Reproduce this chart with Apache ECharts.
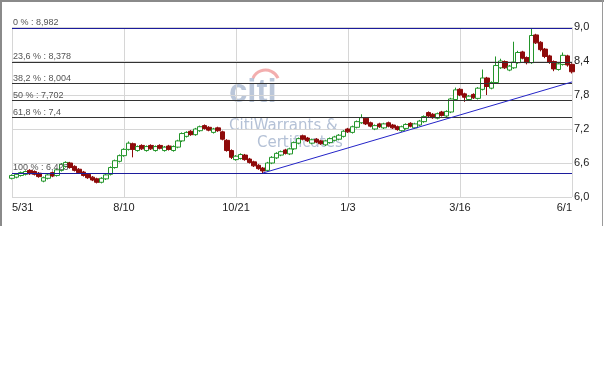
<!DOCTYPE html>
<html>
<head>
<meta charset="utf-8">
<script src="https://cdn.jsdelivr.net/npm/echarts@6/dist/echarts.min.js"></script>
<style>html,body{margin:0;padding:0;background:#fff;}#c{width:604px;height:384px;}</style>
</head>
<body>
<div id="c"></div>
<script>
// x tick labels (every 25 candles)
const dateLabels = ['5/31', '8/10', '10/21', '1/3', '3/16', '6/1'];
// candle values
const opens = [
6.33,6.35,6.38,6.40,6.47,6.45,6.42,6.28,6.33,6.43,
6.38,6.47,6.54,6.60,6.54,6.49,6.44,6.40,6.35,6.32,
6.26,6.32,6.40,6.52,6.63,6.73,6.84,6.94,6.82,6.91,
6.82,6.91,6.82,6.91,6.82,6.90,6.82,6.88,6.99,7.07,
7.16,7.10,7.17,7.26,7.23,7.14,7.22,7.15,7.00,6.82,
6.66,6.68,6.74,6.67,6.62,6.56,6.51,6.47,6.60,6.69,
6.74,6.83,6.76,6.85,6.95,7.08,7.04,6.95,7.02,6.99,
6.92,6.96,7.00,7.02,7.07,7.20,7.14,7.23,7.31,7.39,
7.31,7.20,7.29,7.22,7.31,7.27,7.24,7.17,7.21,7.30,
7.22,7.27,7.33,7.49,7.46,7.39,7.50,7.43,7.50,7.72,
7.90,7.82,7.72,7.81,7.74,7.90,8.10,7.92,8.02,8.28,
8.39,8.24,8.28,8.37,8.56,8.46,8.37,8.86,8.73,8.61,
8.49,8.39,8.25,8.34,8.49,8.34];
const closes = [
6.38,6.40,6.43,6.45,6.41,6.40,6.36,6.34,6.39,6.37,
6.48,6.58,6.61,6.52,6.47,6.43,6.38,6.34,6.30,6.26,
6.33,6.39,6.52,6.64,6.73,6.84,6.95,6.84,6.89,6.85,
6.89,6.85,6.89,6.86,6.88,6.84,6.89,6.99,7.12,7.14,
7.10,7.20,7.24,7.21,7.18,7.20,7.17,7.02,6.82,6.70,
6.72,6.75,6.66,6.61,6.55,6.50,6.46,6.60,6.70,6.77,
6.80,6.77,6.85,6.96,7.03,7.02,6.99,7.01,6.97,6.94,
6.99,7.03,7.06,7.09,7.16,7.15,7.24,7.33,7.40,7.29,
7.25,7.26,7.24,7.29,7.25,7.22,7.19,7.24,7.28,7.25,
7.29,7.34,7.42,7.43,7.40,7.47,7.44,7.51,7.73,7.89,
7.80,7.76,7.78,7.75,7.92,8.10,7.95,8.02,8.32,8.40,
8.28,8.31,8.38,8.55,8.45,8.37,8.85,8.72,8.60,8.48,
8.38,8.26,8.35,8.50,8.33,8.21];
const lows = [
6.31,6.33,6.36,6.38,6.39,6.38,6.34,6.26,6.31,6.35,
6.36,6.45,6.52,6.50,6.45,6.41,6.36,6.32,6.28,6.24,
6.24,6.30,6.38,6.50,6.61,6.71,6.82,6.70,6.80,6.83,
6.80,6.83,6.80,6.84,6.80,6.82,6.80,6.86,6.97,7.05,
7.08,7.08,7.15,7.19,7.16,7.12,7.15,7.00,6.80,6.67,
6.64,6.66,6.64,6.59,6.53,6.48,6.423,6.45,6.58,6.67,
6.72,6.75,6.74,6.83,6.93,7.00,6.97,6.93,6.95,6.92,
6.90,6.94,6.98,7.00,7.05,7.13,7.12,7.21,7.29,7.27,
7.23,7.18,7.22,7.20,7.23,7.20,7.17,7.15,7.19,7.23,
7.20,7.25,7.31,7.41,7.38,7.37,7.42,7.41,7.48,7.70,
7.78,7.68,7.70,7.73,7.72,7.88,7.80,7.90,8.00,8.26,
8.26,8.22,8.26,8.35,8.43,8.34,8.35,8.70,8.57,8.45,
8.35,8.22,8.23,8.32,8.30,8.18];
const highs = [
6.40,6.42,6.45,6.47,6.49,6.47,6.44,6.36,6.41,6.45,
6.50,6.60,6.63,6.62,6.56,6.51,6.46,6.42,6.37,6.34,
6.35,6.41,6.54,6.66,6.75,6.86,6.98,6.96,6.91,6.93,
6.91,6.93,6.91,6.93,6.90,6.92,6.91,7.01,7.14,7.16,
7.18,7.22,7.26,7.28,7.25,7.22,7.24,7.17,7.02,6.84,
6.74,6.77,6.76,6.69,6.64,6.58,6.53,6.62,6.72,6.79,
6.82,6.85,6.87,6.98,7.05,7.10,7.06,7.03,7.04,7.01,
7.01,7.05,7.08,7.11,7.18,7.22,7.26,7.35,7.46,7.41,
7.33,7.28,7.31,7.31,7.33,7.29,7.26,7.26,7.30,7.32,
7.31,7.36,7.44,7.51,7.48,7.49,7.52,7.53,7.75,7.93,
7.92,7.84,7.80,7.83,7.94,8.25,8.12,8.04,8.48,8.44,
8.41,8.33,8.74,8.58,8.58,8.48,8.982,8.88,8.75,8.63,
8.51,8.41,8.37,8.55,8.51,8.36];
// Fibonacci retracement levels
const fibLevels = [0, 23.6, 38.2, 50, 61.8, 100];
const fibValues = [8.982, 8.378, 8.004, 7.702, 7.4, 6.423];
// trend line end points [candle index, price]
const trendStart = [56, 6.423];
const trendEnd = [125, 8.03];

const comma = v => String(v).replace('.', ',');
const candleData = opens.map((o, i) => [i, o, closes[i], lows[i], highs[i]]);

const fibLines = fibValues.map((v, i) => {
  const edge = (i === 0 || i === fibValues.length - 1);
  return {
    yAxis: v,
    lineStyle: { color: edge ? '#1c1c9c' : '#333333', width: 1, type: 'solid' },
    label: { formatter: comma(fibLevels[i]) + ' % : ' + comma(v) }
  };
});

const chart = echarts.init(document.getElementById('c'), null, { renderer: 'canvas' });
chart.setOption({
  animation: false,
  backgroundColor: '#ffffff',
  grid: { left: 12, right: 32, top: 27, bottom: 187 },
  xAxis: {
    type: 'value', min: 0, max: 125, interval: 25,
    axisLine: { show: false }, axisTick: { show: false },
    splitLine: { show: true, lineStyle: { color: '#d6d6d6', width: 1 } },
    axisLabel: {
      margin: 5, color: '#222', fontSize: 11, fontFamily: '"Liberation Sans", Arial, sans-serif',
      alignMinLabel: 'left', alignMaxLabel: 'right',
      formatter: v => dateLabels[Math.round(v / 25)]
    }
  },
  yAxis: {
    type: 'value', position: 'right', min: 6, max: 9, interval: 0.6,
    axisLine: { show: false }, axisTick: { show: false },
    splitLine: { show: true, lineStyle: { color: '#d6d6d6', width: 1 } },
    axisLabel: {
      margin: 2, color: '#222', fontSize: 11, fontFamily: '"Liberation Sans", Arial, sans-serif',
      formatter: v => v.toFixed(1).replace('.', ',')
    }
  },
  graphic: [
    { type: 'text', z: 0, silent: true, style: { text: 'citi', x: 229, y: 76, font: 'bold 33px "Liberation Sans", Arial, sans-serif', fill: 'rgba(140,160,192,0.6)' } },
    { type: 'arc', z: 0, silent: true, shape: { cx: 265.5, cy: 83.8, r: 13.8, startAngle: -2.71, endAngle: -0.43, clockwise: true }, style: { stroke: 'rgba(235,120,120,0.6)', lineWidth: 3, fill: null } },
    { type: 'text', z: 0, silent: true, style: { text: 'CitiWarrants &', x: 229, y: 119, font: '15px "DejaVu Sans", sans-serif', fill: 'rgba(140,160,192,0.65)' } },
    { type: 'text', z: 0, silent: true, style: { text: 'Certificates', x: 257, y: 136, font: '15px "DejaVu Sans", sans-serif', fill: 'rgba(140,160,192,0.65)' } },
    { type: 'line', z: 100, silent: true, shape: { x1: 0, y1: 1, x2: 604, y2: 1 }, style: { stroke: '#8a8a8a', lineWidth: 2 } },
    { type: 'line', z: 100, silent: true, shape: { x1: 1, y1: 0, x2: 1, y2: 226 }, style: { stroke: '#8a8a8a', lineWidth: 2 } },
    { type: 'line', z: 100, silent: true, shape: { x1: 602.5, y1: 0, x2: 602.5, y2: 226 }, style: { stroke: '#9a9a9a', lineWidth: 1 } }
  ],
  series: [{
    type: 'candlestick',
    data: candleData,
    encode: { x: 0, y: [1, 2, 3, 4] },
    barWidth: 5,
    itemStyle: {
      color: '#ffffff', color0: '#8e0a0a',
      borderColor: '#23952a', borderColor0: '#8e0a0a', borderWidth: 1
    },
    markLine: {
      silent: true, symbol: ['none', 'none'], animation: false,
      label: {
        show: true, position: 'insideStartTop', distance: [1, 1],
        color: '#555', fontSize: 9, fontFamily: '"Liberation Sans", Arial, sans-serif'
      },
      data: fibLines.concat([[
        { coord: trendStart, lineStyle: { color: '#2424c8', width: 1, type: 'solid' }, label: { show: false } },
        { coord: trendEnd }
      ]])
    }
  }]
});
</script>
</body>
</html>
